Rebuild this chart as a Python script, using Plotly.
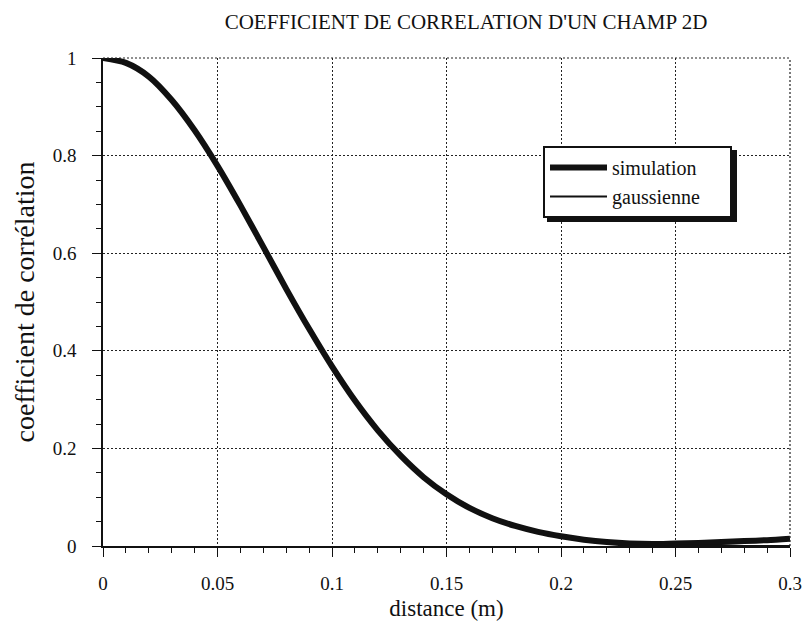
import plotly.graph_objects as go

# distance (m)
distance = [0.00, 0.01, 0.02, 0.03, 0.04, 0.05, 0.06, 0.07, 0.08, 0.09,
            0.10, 0.11, 0.12, 0.13, 0.14, 0.15, 0.16, 0.17, 0.18, 0.19,
            0.20, 0.21, 0.22, 0.23, 0.24, 0.25, 0.26, 0.27, 0.28, 0.29, 0.30]

# correlation coefficient
simulation = [1.000, 0.990, 0.962, 0.914, 0.852, 0.779, 0.698, 0.613, 0.527, 0.445,
              0.368, 0.298, 0.237, 0.185, 0.141, 0.106, 0.078, 0.057, 0.041, 0.029,
              0.020, 0.013, 0.008, 0.005, 0.004, 0.005, 0.006, 0.008, 0.010, 0.012, 0.015]

gaussienne = [1.000, 0.990, 0.961, 0.914, 0.852, 0.779, 0.698, 0.613, 0.527, 0.445,
              0.368, 0.298, 0.237, 0.185, 0.141, 0.105, 0.077, 0.056, 0.039, 0.027,
              0.018, 0.012, 0.008, 0.005, 0.003, 0.002, 0.001, 0.001, 0.000, 0.000, 0.000]

x_ticks = [0, 0.05, 0.1, 0.15, 0.2, 0.25, 0.3]
y_ticks = [0, 0.2, 0.4, 0.6, 0.8, 1]

FONT = "Liberation Serif, Times New Roman, serif"
PAD = "\u00a0" * 5

fig = go.Figure()
fig.add_trace(go.Scatter(x=distance, y=simulation, mode="lines", name="simulation" + PAD,
                         line=dict(color="#111111", width=6, shape="spline", smoothing=0.8)))
fig.add_trace(go.Scatter(x=distance, y=gaussienne, mode="lines", name="gaussienne" + PAD,
                         line=dict(color="#111111", width=2, shape="spline", smoothing=0.8)))

W, H = 805, 621
L, R, T, B = 103, 15, 58, 75
pw, ph = W - L - R, H - T - B

def px_x(p):
    return (p - L) / pw

def px_y(p):
    return (H - B - p) / ph

grid = dict(showgrid=True, gridcolor="#222222", gridwidth=1.2, griddash="2px,2px")

fig.update_xaxes(range=[0, 0.3], tickvals=x_ticks, ticktext=[f"{v:g}" for v in x_ticks],
                 automargin=False,
                 showline=True, linecolor="#111111", linewidth=1.5,
                 ticks="outside", ticklen=9, tickwidth=1.3, tickcolor="#111111",
                 minor=dict(dtick=0.01, ticks="outside", ticklen=5, tickwidth=1.2,
                            tickcolor="#111111", showgrid=False),
                 zeroline=False, ticklabelstandoff=10,
                 tickfont=dict(family=FONT, size=19, color="#111111"),
                 title=dict(text="distance (m)", font=dict(family=FONT, size=23, color="#111111"),
                            standoff=7),
                 **grid)
fig.update_yaxes(range=[0, 1], tickvals=y_ticks, ticktext=[f"{v:g}" for v in y_ticks],
                 automargin=False,
                 showline=True, linecolor="#111111", linewidth=1.5,
                 ticks="outside", ticklen=9, tickwidth=1.3, tickcolor="#111111",
                 minor=dict(dtick=0.05, ticks="outside", ticklen=5, tickwidth=1.2,
                            tickcolor="#111111", showgrid=False),
                 zeroline=False, ticklabelstandoff=12,
                 tickfont=dict(family=FONT, size=19, color="#111111"),
                 title=dict(text="coefficient de corrélation",
                            font=dict(family=FONT, size=28, color="#111111"), standoff=10),
                 **grid)

# dotted frame on top and right
dot = dict(color="#222222", width=1.2, dash="2px,2px")
fig.add_shape(type="line", xref="paper", yref="paper", x0=0, x1=1, y0=1, y1=1, line=dot)
fig.add_shape(type="line", xref="paper", yref="paper", x0=1, x1=1, y0=0, y1=1, line=dot)

# legend shadow
fig.add_shape(type="rect", xref="paper", yref="paper", layer="above",
              x0=px_x(547), x1=px_x(737), y0=px_y(222), y1=px_y(150),
              fillcolor="#111111", line=dict(width=0))

fig.update_layout(
    width=W, height=H,
    margin=dict(l=L, r=R, t=T, b=B),
    paper_bgcolor="white", plot_bgcolor="white",
    font=dict(family=FONT, color="#111111"),
    title=dict(text="COEFFICIENT DE CORRELATION D'UN CHAMP 2D",
               x=(466) / W, xanchor="center", y=1 - 22 / H, yanchor="middle",
               font=dict(family=FONT, size=21, color="#111111")),
    showlegend=True,
    legend=dict(x=px_x(543), y=px_y(146), xanchor="left", yanchor="top",
                bgcolor="white", bordercolor="#111111", borderwidth=2,
                itemwidth=57, tracegroupgap=0,
                font=dict(family=FONT, size=20, color="#111111")),
)

fig.write_html("out.html")
